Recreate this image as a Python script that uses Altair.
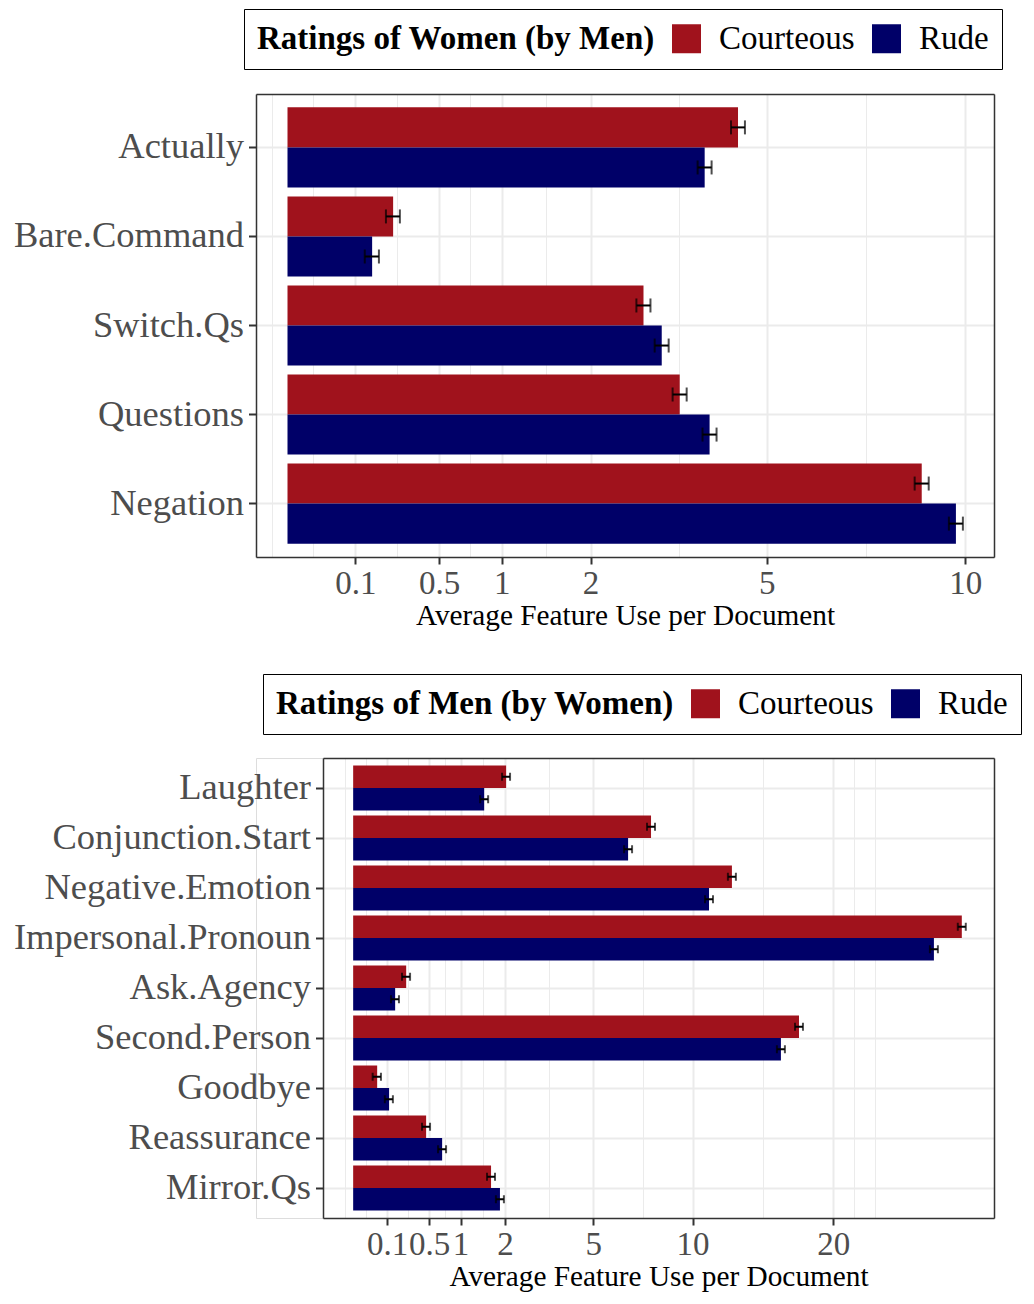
import math
import altair as alt
import pandas as pd

# ---------------- data ----------------
ratings = ["Courteous", "Rude"]
colors = ["#A0121C", "#000068"]

top_features = ["Actually", "Bare.Command", "Switch.Qs", "Questions", "Negation"]
top_courteous = [4.42, 0.243, 2.76, 3.35, 8.76]
top_courteous_se = [0.137, 0.032, 0.109, 0.120, 0.194]
top_rude = [3.79, 0.156, 3.05, 3.88, 9.73]
top_rude_se = [0.127, 0.026, 0.114, 0.129, 0.204]
top_breaks = [0.1, 0.5, 1, 2, 5, 10]

bottom_features = ["Laughter", "Conjunction.Start", "Negative.Emotion",
                   "Impersonal.Pronoun", "Ask.Agency", "Second.Person",
                   "Goodbye", "Reassurance", "Mirror.Qs"]
bottom_courteous = [2.03, 7.70, 12.45, 32.15, 0.244, 17.25, 0.050, 0.462, 1.65]
bottom_courteous_se = [0.106, 0.207, 0.263, 0.422, 0.037, 0.309, 0.017, 0.051, 0.096]
bottom_rude = [1.49, 6.56, 10.99, 29.27, 0.153, 15.88, 0.112, 0.687, 1.87]
bottom_rude_se = [0.091, 0.191, 0.247, 0.403, 0.029, 0.297, 0.025, 0.062, 0.102]
bottom_breaks = [0.1, 0.5, 1, 2, 5, 10, 20]

FONT = "Liberation Serif"
GRID = "#EBEBEB"
BORDER = "#333333"
PANEL_W = 738


def minor_breaks(b, limits):
    """ggplot2-style regular minor breaks in transformed (sqrt) space."""
    b = list(b)
    bd = b[1] - b[0]
    if limits[0] < b[0]:
        b = [b[0] - bd] + b
    if limits[1] > b[-1]:
        b = b + [b[-1] + bd]
    out = []
    for a, c in zip(b[:-1], b[1:]):
        out += [a, (a + c) / 2]
    out.append(b[-1])
    return [v for v in out if limits[0] <= v <= limits[1]]


def panel(features, cv, cse, rv, rse, breaks, domain, shift, height,
          legend_title, legend_x, legend_y, cap):
    df = pd.DataFrame({
        "feature": features * 2,
        "rating": ["Courteous"] * len(features) + ["Rude"] * len(features),
        "mean": cv + rv,
        "se": cse + rse,
    })
    major = [math.sqrt(b) for b in breaks]
    minors = [m for m in minor_breaks(major, domain)
              if all(abs(m - M) > 1e-9 for M in major)]

    xscale = alt.Scale(domain=domain, nice=False, zero=False,
                       range=[shift, PANEL_W])
    yscale = alt.Scale(paddingInner=0.1, paddingOuter=0.15)
    y_main = alt.Y("feature:N", sort=features, scale=yscale,
                   axis=alt.Axis(title=None, bandPosition=0.5, domain=True,
                                 domainColor=BORDER, domainWidth=1.5,
                                 offset=-shift,
                                 labelFont=FONT, labelFontSize=36.5,
                                 labelColor="#4D4D4D", labelLimit=1000,
                                 labelPadding=5, tickColor=BORDER,
                                 tickWidth=2, tickSize=7.5, grid=True,
                                 gridColor=GRID, gridWidth=2))
    y_right = alt.Y("feature:N", sort=features, scale=yscale,
                    axis=alt.Axis(orient="right", title=None, labels=False,
                                  ticks=False, grid=False, domain=True,
                                  domainColor=BORDER, domainWidth=1.5,
                                  minExtent=0, maxExtent=0))
    y_none = alt.Y("feature:N", sort=features, scale=yscale, axis=None)
    yoff = alt.YOffset("rating:N", sort=ratings,
                       scale=alt.Scale(paddingInner=0, paddingOuter=0))

    base = alt.Chart(df).transform_calculate(
        sx="sqrt(datum.mean)",
        lo="sqrt(max(datum.mean - datum.se, 0))",
        hi="sqrt(datum.mean + datum.se)",
    )

    frame_layer = base.mark_bar(opacity=0).encode(
        x=alt.X("sx:Q", scale=xscale,
                axis=alt.Axis(orient="top", values=minors, labels=False,
                              ticks=False, domain=True, domainColor=BORDER,
                              domainWidth=1.5, title=None,
                              grid=True, gridColor=GRID, gridWidth=1,
                              minExtent=0, maxExtent=0)),
        y=y_right,
        yOffset=yoff,
    )

    bars = base.mark_bar().encode(
        x=alt.X("sx:Q", scale=xscale,
                axis=alt.Axis(values=major,
                              labelExpr="format(pow(datum.value, 2), '~g')",
                              labelOverlap=False, labelFlush=False,
                              labelFont=FONT, labelFontSize=33,
                              labelColor="#4D4D4D", labelPadding=3,
                              tickColor=BORDER, tickWidth=2, tickSize=7,
                              domain=True, domainColor=BORDER,
                              domainWidth=1.5, grid=True, gridColor=GRID,
                              gridWidth=2,
                              title="Average Feature Use per Document",
                              titleFont=FONT, titleFontSize=29.3,
                              titleFontWeight="normal", titleColor="black",
                              titlePadding=1)),
        y=y_main,
        yOffset=yoff,
        color=alt.Color(
            "rating:N",
            scale=alt.Scale(domain=ratings, range=colors),
            legend=alt.Legend(
                title=legend_title, orient="none", legendX=legend_x,
                legendY=legend_y, direction="horizontal", titleOrient="left",
                titleFont=FONT, titleFontSize=33, titleFontWeight="bold",
                titleColor="black", titleLimit=1000, titlePadding=15,
                labelFont=FONT, labelFontSize=33, labelColor="black",
                labelLimit=1000, labelOffset=16, columnPadding=15,
                symbolType="square", symbolSize=841, symbolStrokeWidth=0,
                symbolOpacity=1, padding=13, strokeColor="black",
            ),
        ),
    )

    rule = base.mark_rule(color="black", strokeWidth=2).encode(
        x=alt.X("lo:Q", scale=xscale, axis=None), x2="hi:Q",
        y=y_none, yOffset=yoff)
    cap_lo = base.mark_tick(color="black", thickness=2, size=cap).encode(
        x=alt.X("lo:Q", scale=xscale, axis=None), y=y_none, yOffset=yoff)
    cap_hi = base.mark_tick(color="black", thickness=2, size=cap).encode(
        x=alt.X("hi:Q", scale=xscale, axis=None), y=y_none, yOffset=yoff)

    return alt.layer(frame_layer, bars, rule, cap_lo, cap_hi).resolve_axis(
        x="independent", y="independent").properties(
        width=PANEL_W, height=height)


top = panel(top_features, top_courteous, top_courteous_se, top_rude,
            top_rude_se, top_breaks, [-0.147, 3.297], 0, 463,
            "Ratings of Women (by Men)", -12, -85, 14)
bottom = panel(bottom_features, bottom_courteous, bottom_courteous_se,
               bottom_rude, bottom_rude_se, bottom_breaks, [-0.281, 5.97],
               67, 460, "Ratings of Men (by Women)", 7, -84, 8)

chart = alt.vconcat(top, bottom, spacing=42).resolve_scale(
    x="independent", y="independent", yOffset="independent",
    color="independent").resolve_legend(color="independent").properties(
    padding={"left": 4, "top": 0, "right": 0, "bottom": 0}
).configure_view(stroke="transparent").configure(background="white")

chart.save("out.html", embed_options={"renderer": "svg", "actions": False})
